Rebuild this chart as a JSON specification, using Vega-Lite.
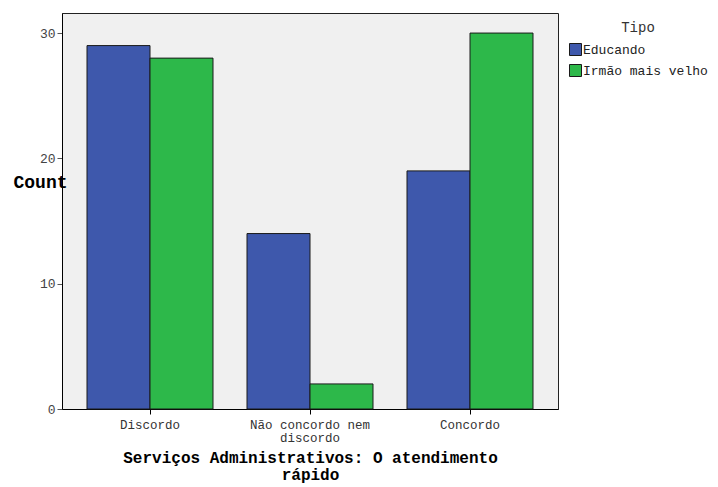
{
  "$schema": "https://vega.github.io/schema/vega-lite/v6.json",
  "width": 496,
  "height": 396,
  "autosize": {"type": "none"},
  "padding": {"left": 62, "top": 13, "right": 160, "bottom": 78},
  "background": "white",
  "config": {
    "font": "Liberation Mono",
    "view": {"fill": "#f0f0f0", "stroke": "#222", "strokeWidth": 1}
  },
  "data": {
    "values": [
      {"cat": "Discordo", "Tipo": "Educando", "count": 29},
      {"cat": "Discordo", "Tipo": "Irmão mais velho", "count": 28},
      {"cat": "Não concordo nem discordo", "Tipo": "Educando", "count": 14},
      {"cat": "Não concordo nem discordo", "Tipo": "Irmão mais velho", "count": 2},
      {"cat": "Concordo", "Tipo": "Educando", "count": 19},
      {"cat": "Concordo", "Tipo": "Irmão mais velho", "count": 30}
    ]
  },
  "mark": {"type": "bar", "stroke": "#1a1a1a", "strokeWidth": 1},
  "encoding": {
    "x": {
      "field": "cat",
      "type": "nominal",
      "sort": ["Discordo", "Não concordo nem discordo", "Concordo"],
      "scale": {"paddingInner": 0.2125, "paddingOuter": 0.15625},
      "axis": {
        "title": ["Serviços Administrativos: O atendimento", "rápido"],
        "titleFont": "Liberation Mono",
        "titleFontSize": 16,
        "titleFontWeight": "bold",
        "titleColor": "#000",
        "titleLineHeight": 17,
        "titlePadding": 6,
        "labelAngle": 0,
        "labelFontSize": 12.5,
        "labelColor": "#333",
        "labelLineHeight": 13,
        "labelPadding": 4,
        "labelExpr": "datum.value == 'Não concordo nem discordo' ? ['Não concordo nem', 'discordo'] : datum.value",
        "domainColor": "#000",
        "tickColor": "#000",
        "tickSize": 5
      }
    },
    "xOffset": {"field": "Tipo", "type": "nominal", "scale": {"paddingInner": 0}},
    "y": {
      "field": "count",
      "type": "quantitative",
      "scale": {"domain": [0, 31.6], "nice": false},
      "axis": {
        "values": [0, 10, 20, 30],
        "grid": false,
        "title": "Count",
        "titleAngle": 0,
        "titleAlign": "center",
        "titleBaseline": "middle",
        "titleX": -22,
        "titleY": 169,
        "titleFontSize": 18,
        "titleFontWeight": "bold",
        "titleColor": "#000",
        "labelFontSize": 13,
        "labelColor": "#444",
        "labelPadding": 2,
        "domainColor": "#000",
        "tickColor": "#555",
        "tickSize": 5
      }
    },
    "color": {
      "field": "Tipo",
      "type": "nominal",
      "scale": {"domain": ["Educando", "Irmão mais velho"], "range": ["#3e58ac", "#2db84a"]},
      "legend": {
        "title": "Tipo",
        "orient": "none",
        "legendX": 507,
        "legendY": 8,
        "titleAnchor": "middle",
        "titleFontSize": 14,
        "titleFontWeight": "normal",
        "titleColor": "#333",
        "titlePadding": 8,
        "labelFontSize": 13,
        "labelColor": "#222",
        "symbolType": "square",
        "symbolSize": 144,
        "symbolStrokeColor": "#1a1a1a",
        "symbolStrokeWidth": 1,
        "labelOffset": 1,
        "rowPadding": 4
      }
    }
  }
}
